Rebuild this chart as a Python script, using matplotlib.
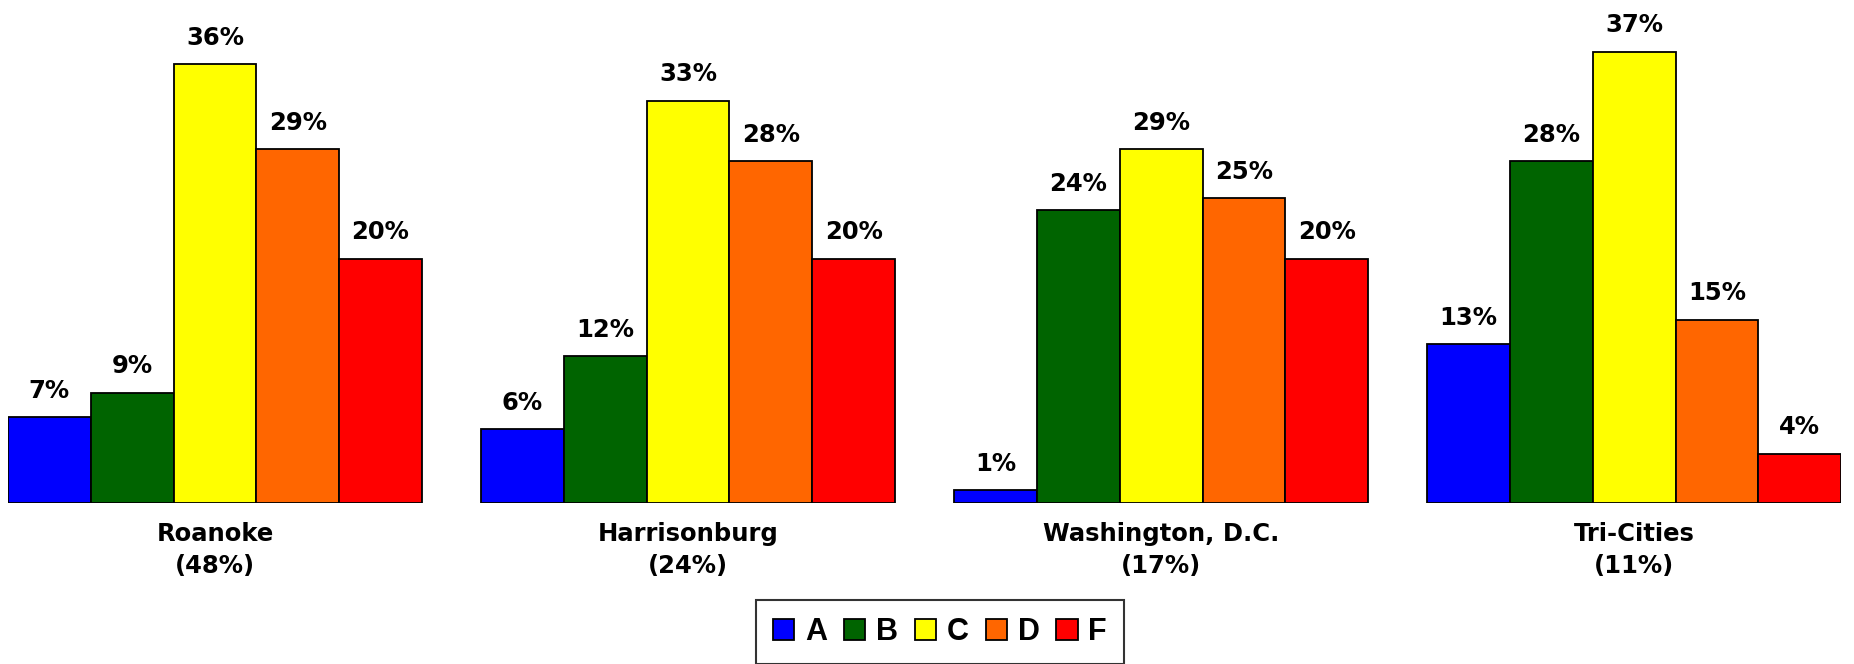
import numpy as np
import matplotlib
matplotlib.use("Agg")
import matplotlib.pyplot as plt

cities = ['Roanoke\n(48%)', 'Harrisonburg\n(24%)', 'Washington, D.C.\n(17%)', 'Tri-Cities\n(11%)']
grades = ['A', 'B', 'C', 'D', 'F']
colors = ['#0000FF', '#006400', '#FFFF00', '#FF6600', '#FF0000']

A = [7, 6, 1, 13]
B = [9, 12, 24, 28]
C = [36, 33, 29, 37]
D = [29, 28, 25, 15]
F = [20, 20, 20, 4]
series = [A, B, C, D, F]

fig = plt.figure(figsize=(18.54, 6.64), dpi=100)
ax = fig.add_axes([0.0043, 0.2432, 0.9888, 0.7568])

x = np.arange(len(cities))
w = 0.175
bars = []
for i, vals in enumerate(series):
    b = ax.bar(x + (i - 2) * w, vals, w, color=colors[i], edgecolor='black',
               linewidth=1.3, label=grades[i])
    bars.append(b)
    for xi, v in zip(x + (i - 2) * w, vals):
        ax.annotate('%d%%' % v, (xi, v), xytext=(0, 14), textcoords='offset points',
                    ha='center', va='baseline', fontsize=17.5, fontweight='bold',
                    family='DejaVu Sans')

ax.set_xlim(-2.5 * w, 3 + 2.5 * w)
ax.set_ylim(0, 41.25)
ax.set_yticks([])
ax.set_xticks(x)
ax.set_xticklabels(cities, fontsize=17.5, fontweight='bold', linespacing=1.4)
ax.tick_params(axis='x', length=0, pad=14)
for s in ax.spines.values():
    s.set_visible(False)

leg = fig.legend(handles=bars, labels=grades, loc='lower center', ncol=5,
                 bbox_to_anchor=(0.507, 0.0), frameon=True, fancybox=False,
                 prop={'family': 'Liberation Sans', 'weight': 'bold', 'size': 22},
                 handlelength=0.7, handleheight=0.7, handletextpad=0.35,
                 columnspacing=0.55, borderpad=0.55, borderaxespad=0)
leg.get_frame().set_edgecolor('black')
leg.get_frame().set_linewidth(1.5)

fig.savefig('out.png', dpi=100)
